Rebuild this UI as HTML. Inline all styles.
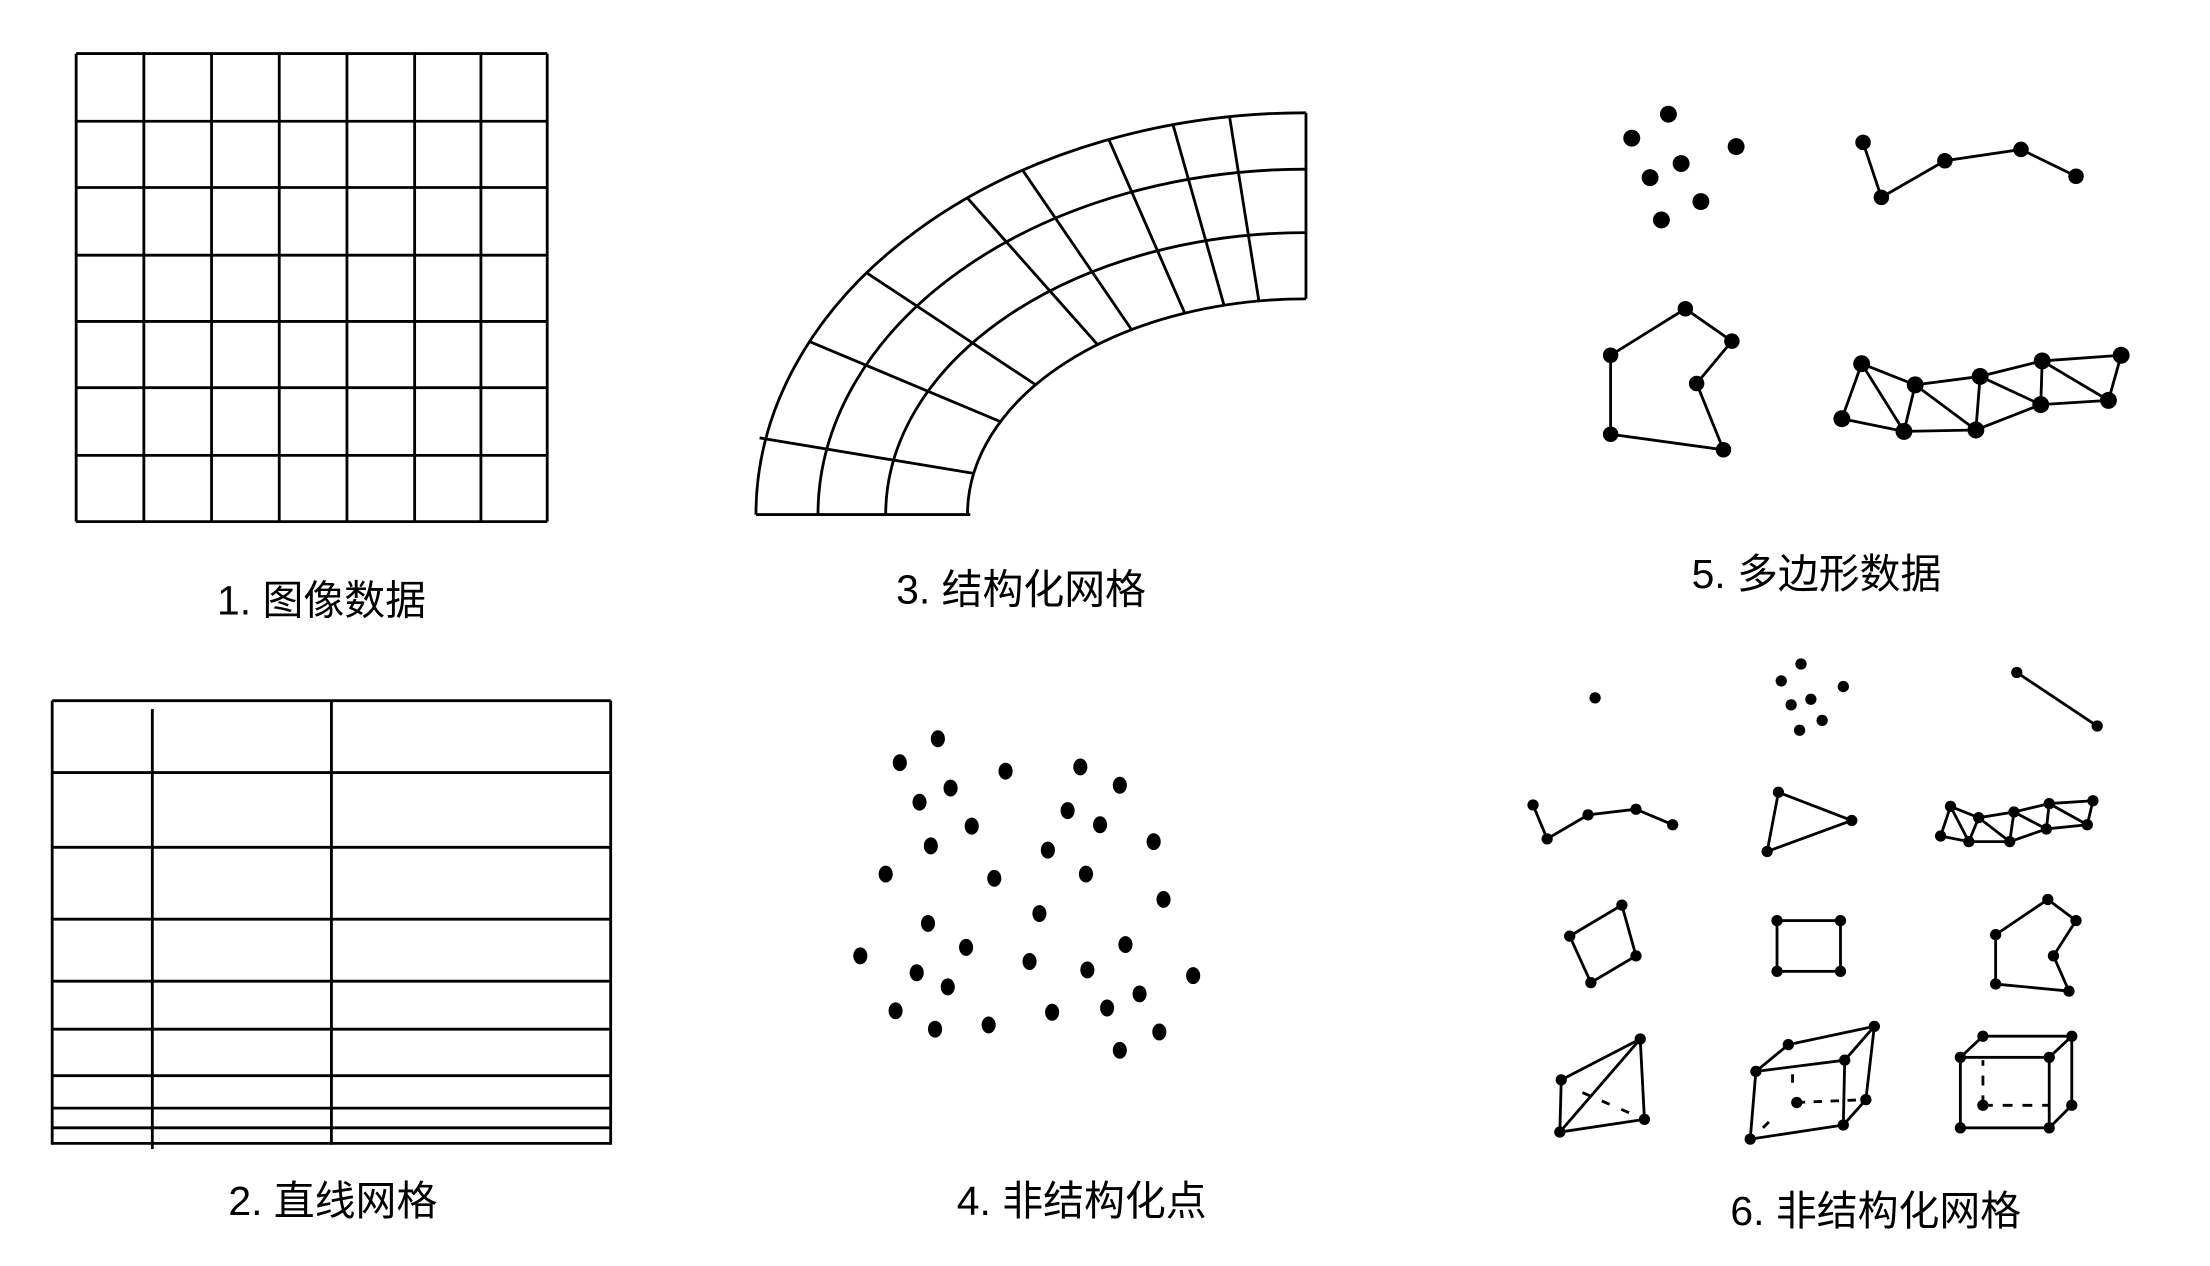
<!DOCTYPE html>
<html><head><meta charset="utf-8"><style>
html,body{margin:0;padding:0;background:#fff;}
svg{display:block;}
text{font-family:"Liberation Sans","Noto Sans CJK SC",sans-serif;font-size:29px;fill:#000;text-anchor:middle;}
</style></head><body>
<svg width="2210" height="1266" viewBox="0 0 1567 898" preserveAspectRatio="none" xmlns="http://www.w3.org/2000/svg">
<g stroke="#000" stroke-width="2" fill="none">
<!-- Panel 1 -->
<path d="M54 38V370M102 38V370M150 38V370M198 38V370M246 38V370M294 38V370M341 38V370M388 38V370"/>
<path d="M54 38H388M54 86H388M54 133H388M54 181H388M54 228H388M54 275H388M54 323H388M54 370H388"/>
<!-- Panel 3 -->
<path d="M926 80 A390 285 0 0 0 536 365"/>
<path d="M926 120 A346 245 0 0 0 580 365"/>
<path d="M926 165 A298 200 0 0 0 628 365"/>
<path d="M926 212 A240 153 0 0 0 686 365"/>
<path d="M926 80V212M536 365H688"/>
<path d="M538.6 310.6L690.4 335.8M574.0 242.3L709.4 299.1M614.5 193.5L734.3 272.9M685.9 140.4L778.2 244.4M725.1 120.7L802.4 233.9M786.2 98.9L840.0 222.0M831.7 88.4L867.9 216.5M871.7 82.0L892.6 213.5"/>
<!-- Panel 2 -->
<path d="M37 497V812M433 497V812M108 503V815M235 497V812"/>
<path d="M37 497H433M37 548H433M37 601H433M37 652H433M37 696H433M37 730H433M37 763H433M37 786H433M37 800H433M37 811H433"/>
<!-- Panel 5 -->
<polyline points="1321,101 1334,140 1379,114 1433,106 1472,125"/>
<polygon points="1195,219 1228,242 1203,272 1222,319 1142,308 1142,252"/>
<path d="M1320 258L1306 297M1320 258L1358 273M1320 258L1350 306M1306 297L1350 306M1358 273L1350 306M1358 273L1404 267M1358 273L1401 305M1350 306L1401 305M1404 267L1401 305M1404 267L1447 287M1404 267L1448 256M1401 305L1447 287M1448 256L1447 287M1448 256L1504 252M1448 256L1495 284M1447 287L1495 284M1504 252L1495 284"/>
<!-- Panel 6 -->
<path d="M1430 477L1487 515"/>
<polyline points="1087,571 1097,595 1126,578 1160,574 1186,585"/>
<polygon points="1261,562 1313,582 1253,604"/>
<path d="M1383 572L1376 593M1383 572L1403 580M1383 572L1396 597M1376 593L1396 597M1403 580L1396 597M1403 580L1428 576M1403 580L1425 597M1396 597L1425 597M1428 576L1425 597M1428 576L1451 588M1428 576L1453 570M1425 597L1451 588M1453 570L1451 588M1453 570L1484 568M1453 570L1480 585M1451 588L1480 585M1484 568L1480 585"/>
<polygon points="1150,642 1160,678 1128,697 1113,664"/>
<rect x="1260" y="653" width="45" height="36"/>
<polygon points="1452,638 1472,653 1456,678 1467,703 1415,698 1415,663"/>
<path d="M1163 737L1107 766M1163 737L1106 803M1163 737L1166 794M1107 766L1106 803M1106 803L1166 794"/>
<path d="M1122 775L1166 794" stroke-dasharray="6 9"/>
<path d="M1268 741L1329 728M1245 760L1268 741M1329 728L1308 752M1245 760L1308 752M1245 760L1241 808M1308 752L1307 798M1241 808L1307 798M1329 728L1323 780M1323 780L1307 798"/>
<path d="M1274 782L1323 780M1271 762L1271 772M1250 800L1256 794" stroke-dasharray="6 6"/>
<rect x="1390" y="750" width="63" height="50"/>
<path d="M1390 750L1406 735M1453 750L1469 735M1406 735H1469M1469 735V784M1469 784L1453 800"/>
<path d="M1406 784H1453M1406 784V752" stroke-dasharray="7 7"/>
</g>
<g fill="#000">
<circle cx="1183" cy="81" r="6"/><circle cx="1157" cy="98" r="6"/><circle cx="1231" cy="104" r="6"/><circle cx="1192" cy="116" r="6"/><circle cx="1170" cy="126" r="6"/><circle cx="1206" cy="143" r="6"/><circle cx="1178" cy="156" r="6"/>
<circle cx="1321" cy="101" r="5.5"/><circle cx="1334" cy="140" r="5.5"/><circle cx="1379" cy="114" r="5.5"/><circle cx="1433" cy="106" r="5.5"/><circle cx="1472" cy="125" r="5.5"/>
<circle cx="1195" cy="219" r="5.5"/><circle cx="1228" cy="242" r="5.5"/><circle cx="1203" cy="272" r="5.5"/><circle cx="1222" cy="319" r="5.5"/><circle cx="1142" cy="308" r="5.5"/><circle cx="1142" cy="252" r="5.5"/>
<circle cx="1320" cy="258" r="6"/><circle cx="1306" cy="297" r="6"/><circle cx="1358" cy="273" r="6"/><circle cx="1350" cy="306" r="6"/><circle cx="1404" cy="267" r="6"/><circle cx="1401" cy="305" r="6"/><circle cx="1448" cy="256" r="6"/><circle cx="1447" cy="287" r="6"/><circle cx="1504" cy="252" r="6"/><circle cx="1495" cy="284" r="6"/>
<g>
<ellipse cx="665" cy="524" rx="5" ry="6"/><ellipse cx="638" cy="541" rx="5" ry="6"/><ellipse cx="713" cy="547" rx="5" ry="6"/><ellipse cx="766" cy="544" rx="5" ry="6"/><ellipse cx="674" cy="559" rx="5" ry="6"/><ellipse cx="794" cy="557" rx="5" ry="6"/><ellipse cx="652" cy="569" rx="5" ry="6"/><ellipse cx="757" cy="575" rx="5" ry="6"/><ellipse cx="689" cy="586" rx="5" ry="6"/><ellipse cx="780" cy="585" rx="5" ry="6"/><ellipse cx="660" cy="600" rx="5" ry="6"/><ellipse cx="743" cy="603" rx="5" ry="6"/><ellipse cx="818" cy="597" rx="5" ry="6"/><ellipse cx="628" cy="620" rx="5" ry="6"/><ellipse cx="705" cy="623" rx="5" ry="6"/><ellipse cx="770" cy="620" rx="5" ry="6"/><ellipse cx="825" cy="638" rx="5" ry="6"/><ellipse cx="737" cy="648" rx="5" ry="6"/><ellipse cx="658" cy="655" rx="5" ry="6"/><ellipse cx="685" cy="672" rx="5" ry="6"/><ellipse cx="798" cy="670" rx="5" ry="6"/><ellipse cx="610" cy="678" rx="5" ry="6"/><ellipse cx="730" cy="682" rx="5" ry="6"/><ellipse cx="650" cy="690" rx="5" ry="6"/><ellipse cx="771" cy="688" rx="5" ry="6"/><ellipse cx="672" cy="700" rx="5" ry="6"/><ellipse cx="846" cy="692" rx="5" ry="6"/><ellipse cx="808" cy="705" rx="5" ry="6"/><ellipse cx="635" cy="717" rx="5" ry="6"/><ellipse cx="785" cy="715" rx="5" ry="6"/><ellipse cx="746" cy="718" rx="5" ry="6"/><ellipse cx="701" cy="727" rx="5" ry="6"/><ellipse cx="663" cy="730" rx="5" ry="6"/><ellipse cx="822" cy="732" rx="5" ry="6"/><ellipse cx="794" cy="745" rx="5" ry="6"/>
</g>
<circle cx="1131" cy="495" r="4"/>
<circle cx="1277" cy="471" r="4"/><circle cx="1263" cy="483" r="4"/><circle cx="1307" cy="487" r="4"/><circle cx="1284" cy="496" r="4"/><circle cx="1270" cy="500" r="4"/><circle cx="1292" cy="511" r="4"/><circle cx="1276" cy="518" r="4"/>
<circle cx="1430" cy="477" r="4"/><circle cx="1487" cy="515" r="4"/>
<circle cx="1087" cy="571" r="4"/><circle cx="1097" cy="595" r="4"/><circle cx="1126" cy="578" r="4"/><circle cx="1160" cy="574" r="4"/><circle cx="1186" cy="585" r="4"/>
<circle cx="1261" cy="562" r="4"/><circle cx="1313" cy="582" r="4"/><circle cx="1253" cy="604" r="4"/>
<circle cx="1383" cy="572" r="4"/><circle cx="1376" cy="593" r="4"/><circle cx="1403" cy="580" r="4"/><circle cx="1396" cy="597" r="4"/><circle cx="1428" cy="576" r="4"/><circle cx="1425" cy="597" r="4"/><circle cx="1453" cy="570" r="4"/><circle cx="1451" cy="588" r="4"/><circle cx="1484" cy="568" r="4"/><circle cx="1480" cy="585" r="4"/>
<circle cx="1150" cy="642" r="4"/><circle cx="1160" cy="678" r="4"/><circle cx="1128" cy="697" r="4"/><circle cx="1113" cy="664" r="4"/>
<circle cx="1260" cy="653" r="4"/><circle cx="1305" cy="653" r="4"/><circle cx="1305" cy="689" r="4"/><circle cx="1260" cy="689" r="4"/>
<circle cx="1452" cy="638" r="4"/><circle cx="1472" cy="653" r="4"/><circle cx="1456" cy="678" r="4"/><circle cx="1467" cy="703" r="4"/><circle cx="1415" cy="698" r="4"/><circle cx="1415" cy="663" r="4"/>
<circle cx="1163" cy="737" r="4"/><circle cx="1107" cy="766" r="4"/><circle cx="1106" cy="803" r="4"/><circle cx="1166" cy="794" r="4"/>
<circle cx="1268" cy="741" r="4"/><circle cx="1329" cy="728" r="4"/><circle cx="1245" cy="760" r="4"/><circle cx="1308" cy="752" r="4"/><circle cx="1241" cy="808" r="4"/><circle cx="1307" cy="798" r="4"/><circle cx="1323" cy="780" r="4"/><circle cx="1274" cy="782" r="4"/>
<circle cx="1390" cy="750" r="4"/><circle cx="1453" cy="750" r="4"/><circle cx="1390" cy="800" r="4"/><circle cx="1453" cy="800" r="4"/><circle cx="1406" cy="735" r="4"/><circle cx="1469" cy="735" r="4"/><circle cx="1469" cy="784" r="4"/><circle cx="1406" cy="784" r="4"/>
</g>
<text x="228" y="436">1. 图像数据</text>
<text x="724" y="428">3. 结构化网格</text>
<text x="1288" y="417">5. 多边形数据</text>
<text x="236" y="862">2. 直线网格</text>
<text x="767" y="862">4. 非结构化点</text>
<text x="1330" y="869">6. 非结构化网格</text>
</svg>
</body></html>
